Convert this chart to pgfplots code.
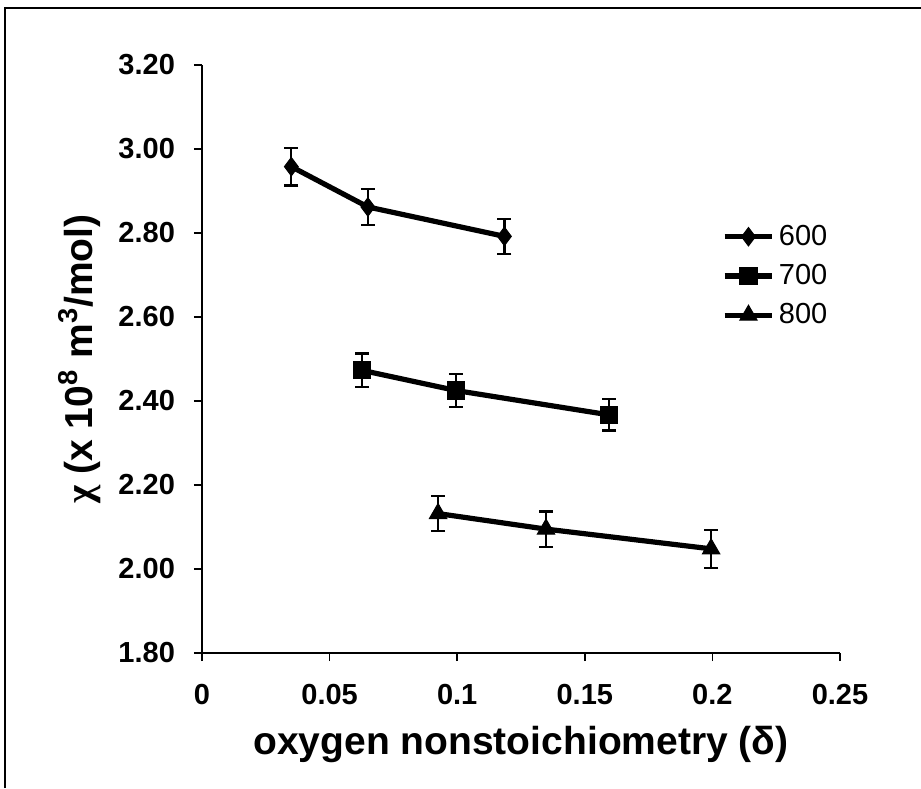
\documentclass[border=0pt]{standalone}
\usepackage{pgfplots}
\pgfplotsset{compat=1.18}
\usepackage{fontspec}
\setmainfont{Liberation Sans}
\newfontfamily\chifont{Liberation Serif}
\begin{document}
\begin{tikzpicture}
\path[use as bounding box] (0pt,0pt) rectangle (460.5pt,394pt);
\draw[line width=1.2pt] (2.5pt,0pt) -- (2.5pt,390pt) -- (460.5pt,390pt);
\begin{axis}[
  at={(101pt,67.5pt)}, anchor=south west,
  scale only axis, width=319pt, height=294pt,
  xmin=0, xmax=0.25, ymin=1.8, ymax=3.2,
  axis x line*=bottom, axis y line*=left,
  axis line style={line width=0.8pt, -},
  tick align=outside, major tick length=4pt,
  tick style={line width=0.8pt, black},
  xtick={0,0.05,0.1,0.15,0.2,0.25},
  xticklabels={0,0.05,0.1,0.15,0.2,0.25},
  ytick={1.8,2.0,2.2,2.4,2.6,2.8,3.0,3.2},
  yticklabels={1.80,2.00,2.20,2.40,2.60,2.80,3.00,3.20},
  ticklabel style={font=\fontsize{14.5}{17}\selectfont\bfseries},
  xticklabel style={yshift=-8pt},
  yticklabel style={xshift=-6pt},
  xlabel={oxygen nonstoichiometry (δ)},
  ylabel={{\chifont\bfseries χ} (x 10\textsuperscript{8} m\textsuperscript{3}/mol)},
  label style={font=\fontsize{19.5}{22}\selectfont\bfseries},
  xlabel style={yshift=-4pt},
  ylabel style={yshift=2pt},
  legend style={draw=none, fill=none, at={(0.805,0.742)}, anchor=north west,
    font=\fontsize{14.5}{17}\selectfont, row sep=4pt,
    legend cell align=left},
  legend image code/.code={\draw[mark repeat=2,mark phase=2,#1] plot coordinates {(0cm,0cm) (0.42cm,0cm) (0.84cm,0cm)};},
  every axis plot/.append style={black, line width=2.6pt, mark options={solid, black, fill=black, line width=0.5pt}},
  error bars/error bar style={line width=1.1pt, black},
  error bars/error mark options={rotate=90, mark size=3.5pt, line width=1.1pt, black},
]
\addplot[black, mark=diamond*, mark size=4.6pt,
  error bars/.cd, y dir=both, y explicit]
  coordinates {(0.035,2.958) +- (0,0.045) (0.065,2.862) +- (0,0.043) (0.1185,2.792) +- (0,0.042)};
\addlegendentry{600}
\addplot[black, mark=square*, mark size=4.3pt,
  error bars/.cd, y dir=both, y explicit]
  coordinates {(0.0627,2.473) +- (0,0.04) (0.0995,2.425) +- (0,0.04) (0.1595,2.367) +- (0,0.037)};
\addlegendentry{700}
\addplot[black, mark=triangle*, mark size=5pt,
  error bars/.cd, y dir=both, y explicit]
  coordinates {(0.0925,2.132) +- (0,0.042) (0.1348,2.095) +- (0,0.042) (0.1995,2.048) +- (0,0.045)};
\addlegendentry{800}
\end{axis}
\end{tikzpicture}
\end{document}
